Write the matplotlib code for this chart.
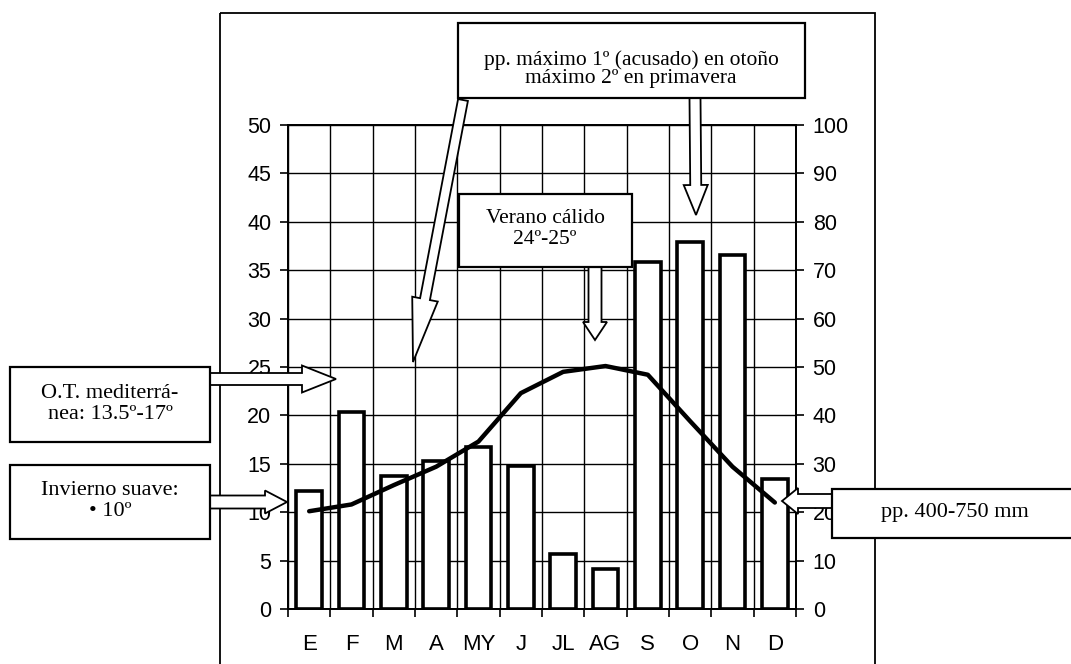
import matplotlib
matplotlib.use("Agg")
import matplotlib.pyplot as plt
import numpy as np
from matplotlib.patches import Rectangle, FancyArrow

# datos del climograma
meses = ["E", "F", "M", "A", "MY", "J", "JL", "AG", "S", "O", "N", "D"]
temperatura = [10.1, 10.8, 12.8, 14.7, 17.3, 22.3, 24.5, 25.1, 24.2, 19.4, 14.7, 11.0]  # ºC
precipitacion = [24.4, 40.8, 27.5, 30.6, 33.5, 29.5, 11.4, 8.3, 71.6, 75.8, 73.2, 26.8]  # mm

W, H = 1071, 664
fig = plt.figure(figsize=(W / 100, H / 100), dpi=100)
fig.patch.set_facecolor("white")

sans = "Liberation Sans"
serif = "Liberation Serif"

# ejes principales (pixeles: izq 288, der 796, arriba 125, abajo 609)
rect = [288 / W, 1 - 609 / H, 508 / W, 484 / H]
ax = fig.add_axes(rect)
ax2 = ax.twinx()
ax.set_zorder(2)
ax.patch.set_visible(False)
ax2.set_zorder(1)
ax2.patch.set_visible(True)
ax2.patch.set_facecolor("white")

x = np.arange(len(meses))

# barras de precipitacion (eje derecho)
ax2.bar(x, precipitacion, width=0.6, facecolor="white", edgecolor="black", linewidth=2.6, zorder=3)
ax2.set_ylim(0, 100)
ax2.set_yticks(np.arange(0, 101, 10))
ax2.set_axisbelow(True)
ax2.yaxis.grid(True, color="black", linewidth=1.0)

# curva de temperatura (eje izquierdo)
ax.plot(x, temperatura, color="black", linewidth=3.2, solid_capstyle="round", zorder=4)
ax.set_ylim(0, 50)
ax.set_yticks(np.arange(0, 51, 5))
ax.set_xlim(-0.5, len(meses) - 0.5)

ax.set_xticks(np.arange(-0.5, len(meses), 1))
ax.set_xticklabels([])
ax.set_xticks(x, minor=True)
ax.set_xticklabels(meses, minor=True, fontfamily=sans, fontsize=16)
ax.xaxis.grid(True, which="major", color="black", linewidth=1.0)
ax.tick_params(axis="x", which="major", direction="out", length=6, width=1.2)
ax.tick_params(axis="x", which="minor", length=0, pad=18)
ax.tick_params(axis="y", direction="out", length=6, width=1.2, pad=6, labelsize=15.5)
ax2.tick_params(axis="y", direction="out", length=6, width=1.2, pad=6, labelsize=15.5)
for lab in ax.get_yticklabels() + ax2.get_yticklabels():
    lab.set_fontfamily(sans)

for a in (ax, ax2):
    for s in a.spines.values():
        s.set_linewidth(1.3)
        s.set_color("black")

# capa de anotaciones en pixeles
ov = fig.add_axes([0, 0, 1, 1], zorder=10)
ov.set_xlim(0, W)
ov.set_ylim(H, 0)
ov.axis("off")

# marco exterior
ov.add_patch(Rectangle((220, 13), 655, 670, fill=False, edgecolor="black", linewidth=1.3, zorder=1))


def flecha(x0, y0, x1, y1, ancho, cabeza_w, cabeza_l):
    ov.add_patch(FancyArrow(x0, y0, x1 - x0, y1 - y0, width=ancho, head_width=cabeza_w,
                            head_length=cabeza_l, length_includes_head=True,
                            facecolor="white", edgecolor="black", linewidth=1.3, zorder=2))


flecha(463, 100, 413, 362, 10, 26, 64)
flecha(695, 98, 696, 215, 11, 24, 30)
flecha(595, 267, 595, 340, 13, 24, 18)
flecha(210, 379, 336, 379, 12, 27, 34)
flecha(210, 502, 287, 502, 13, 23, 22)
flecha(832, 501, 782, 501, 14, 26, 16)


def caja(x0, y0, x1, y1, texto, tx, ty, size=14, ls=1.0):
    ov.add_patch(Rectangle((x0, y0), x1 - x0, y1 - y0, facecolor="white",
                           edgecolor="black", linewidth=1.6, zorder=3))
    ov.text(tx, ty, texto, ha="center", va="center", fontfamily=serif, fontsize=size,
            linespacing=ls, zorder=4)


caja(458, 23, 805, 98, "pp. máximo 1º (acusado) en otoño\nmáximo 2º en primavera", 631, 69, 15.5, 0.95)
caja(459, 194, 632, 267, "Verano cálido\n24º-25º", 545, 229, 15.5, 1.1)
caja(10, 367, 210, 442, "O.T. mediterrá-\nnea: 13.5º-17º", 110, 404, 16, 1.1)
caja(10, 465, 210, 539, "Invierno suave:\n• 10º", 110, 501, 16, 1.1)
caja(832, 489, 1100, 538, "pp. 400-750 mm", 955, 512, 16, 1.0)

fig.savefig("out.png", dpi=100)
